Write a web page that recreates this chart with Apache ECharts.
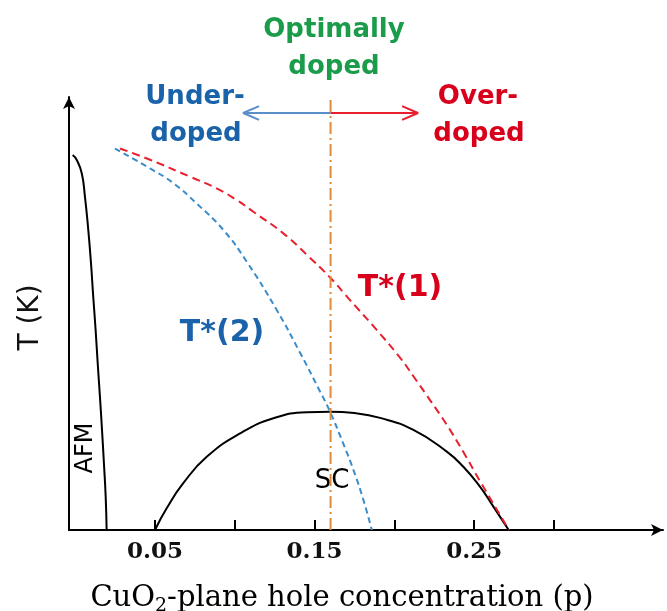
<!DOCTYPE html>
<html>
<head>
<meta charset="utf-8">
<script src="https://cdn.jsdelivr.net/npm/echarts@6/dist/echarts.min.js"></script>
<style>
html,body{margin:0;padding:0;background:#fff;}
#chart{width:667px;height:611px;}
</style>
</head>
<body>
<div id="chart"></div>
<script>
// ---- data (T in arbitrary units, axis top = 100) ----
const tickValues = [0.05, 0.10, 0.15, 0.20, 0.25, 0.30];
const labelValues = [0.05, 0.15, 0.25];

const afmP = [-0.0016, 0.0009, 0.0041, 0.0061, 0.0082, 0.0099, 0.0113, 0.0128, 0.0141, 0.0155, 0.0168, 0.0180, 0.0191, 0.0197];
const afmT = [86.6, 85.5, 82.4, 77.0, 69.3, 61.6, 53.9, 46.2, 38.5, 30.8, 23.1, 15.4, 7.7, 0];

const scP = [0.050, 0.0573, 0.0677, 0.0824, 0.1033, 0.1242, 0.1451, 0.1597, 0.1750, 0.1910, 0.2119, 0.2328, 0.2432, 0.2536, 0.2620, 0.2716];
const scT = [0, 5.0, 10.8, 16.9, 22.3, 25.8, 27.2, 27.3, 27.0, 25.9, 23.1, 18.1, 14.6, 10.0, 5.4, 0];

const t1P = [0.0281, 0.0469, 0.0719, 0.0886, 0.1012, 0.1116, 0.1304, 0.1450, 0.1597, 0.1722, 0.1889, 0.2035, 0.2119, 0.2223, 0.2328, 0.2432, 0.2536, 0.2718];
const t1T = [88.1, 85.5, 81.6, 78.9, 76.2, 73.5, 68.5, 63.6, 58.3, 53.1, 46.2, 39.8, 35.5, 30.0, 24.3, 18.0, 11.3, 0];

const t2P = [0.0249, 0.0469, 0.0615, 0.0761, 0.0928, 0.1074, 0.1263, 0.1408, 0.1534, 0.1597, 0.1679, 0.1743, 0.1806, 0.1858];
const t2T = [88.1, 83.5, 80.1, 75.4, 69.3, 62.0, 50.8, 41.0, 32.0, 27.3, 20.0, 13.9, 6.9, 0];

const optimalP = 0.16;
const arrowT = 96.3;
const underEndP = 0.1052;
const overEndP = 0.2148;

// ---- build ----
const zip = (xs, ys) => xs.map((x, i) => [x, ys[i]]);
const headDX = 0.010, headDY = 1.6;
function chevron(endP, dir) {
  return [[endP - dir * headDX, arrowT + headDY], [endP, arrowT], [endP - dir * headDX, arrowT - headDY]];
}

const chart = echarts.init(document.getElementById('chart'), null, {renderer: 'canvas'});
const blueText = '#1a63aa', redText = '#d9001b', greenText = '#1b9c4b';
const sans = 'DejaVu Sans';
const lblFont = 'bold 26px "DejaVu Sans"';

const option = {
  animation: false,
  backgroundColor: '#ffffff',
  grid: {left: 69, top: 97, width: 594, bottom: 81, containLabel: false, outerBoundsMode: 'none'},
  xAxis: {
    type: 'value', min: -0.00388, max: 0.36828,
    axisLine: {show: true, onZero: false, symbol: ['none', 'arrow'], symbolSize: [9, 12], lineStyle: {color: '#000', width: 2}},
    axisTick: {show: true, inside: true, length: 10, customValues: tickValues, lineStyle: {color: '#000', width: 2}},
    axisLabel: {show: true, customValues: labelValues, formatter: v => v.toFixed(2), fontFamily: 'DejaVu Serif', fontWeight: 'bold', fontSize: 23, color: '#111', margin: 11},
    splitLine: {show: false},
    name: 'CuO{sub|2}-plane hole concentration (p)',
    nameLocation: 'middle', nameGap: 51,
    nameTextStyle: {fontFamily: 'DejaVu Serif', fontSize: 29, color: '#000', padding: [0, 48, 0, 0],
      rich: {sub: {fontFamily: 'DejaVu Serif', fontSize: 19, color: '#000', padding: [16, 0, 0, 0]}}}
  },
  yAxis: {
    type: 'value', min: 0, max: 100,
    axisLine: {show: true, onZero: false, symbol: ['none', 'arrow'], symbolSize: [9, 12], lineStyle: {color: '#000', width: 2}},
    axisTick: {show: false}, axisLabel: {show: false}, splitLine: {show: false},
    name: 'T (K)', nameLocation: 'middle', nameRotate: 90, nameGap: 24,
    nameTextStyle: {fontFamily: sans, fontSize: 28, color: '#111', padding: [0, 8, 0, 0]}
  },
  series: [
    {type: 'line', name: 'AFM', data: zip(afmP, afmT), smooth: 0.5, symbol: 'none', lineStyle: {color: '#000', width: 2}},
    {type: 'line', name: 'SC', data: zip(scP, scT), smooth: 0.5, symbol: 'none', lineStyle: {color: '#000', width: 2}},
    {type: 'line', name: 'T*(1)', data: zip(t1P, t1T), smooth: 0.5, symbol: 'none', lineStyle: {color: '#e8202e', width: 2, type: [8, 5]}},
    {type: 'line', name: 'T*(2)', data: zip(t2P, t2T), smooth: 0.5, symbol: 'none', lineStyle: {color: '#3b8ccb', width: 2, type: [6, 4]}},
    {type: 'line', name: 'optimal', data: [[optimalP, 0], [optimalP, 100]], symbol: 'none', lineStyle: {color: '#e08a3c', width: 2, type: [12, 4, 2, 4]}},
    {type: 'line', name: 'under', data: [[optimalP, arrowT], [underEndP, arrowT]], symbol: 'none', lineStyle: {color: '#5b8fc9', width: 2}},
    {type: 'line', name: 'underHead', data: chevron(underEndP, -1), symbol: 'none', lineStyle: {color: '#5b8fc9', width: 2}},
    {type: 'line', name: 'over', data: [[optimalP, arrowT], [overEndP, arrowT]], symbol: 'none', lineStyle: {color: '#e8202e', width: 2}},
    {type: 'line', name: 'overHead', data: chevron(overEndP, 1), symbol: 'none', lineStyle: {color: '#e8202e', width: 2}}
  ],
  graphic: [
    {type: 'text', x: 334, y: 30, style: {text: 'Optimally', fill: greenText, font: lblFont, align: 'center', verticalAlign: 'middle'}},
    {type: 'text', x: 334, y: 67, style: {text: 'doped', fill: greenText, font: lblFont, align: 'center', verticalAlign: 'middle'}},
    {type: 'text', x: 195, y: 97, style: {text: 'Under-', fill: blueText, font: lblFont, align: 'center', verticalAlign: 'middle'}},
    {type: 'text', x: 196, y: 134, style: {text: 'doped', fill: blueText, font: lblFont, align: 'center', verticalAlign: 'middle'}},
    {type: 'text', x: 478, y: 97, style: {text: 'Over-', fill: redText, font: lblFont, align: 'center', verticalAlign: 'middle'}},
    {type: 'text', x: 479, y: 134, style: {text: 'doped', fill: redText, font: lblFont, align: 'center', verticalAlign: 'middle'}},
    {type: 'text', x: 400, y: 288, style: {text: 'T*(1)', fill: redText, font: 'bold 30px "DejaVu Sans"', align: 'center', verticalAlign: 'middle'}},
    {type: 'text', x: 222, y: 333, style: {text: 'T*(2)', fill: blueText, font: 'bold 30px "DejaVu Sans"', align: 'center', verticalAlign: 'middle'}},
    {type: 'text', x: 332, y: 481, style: {text: 'SC', fill: '#000', font: '26px "DejaVu Sans"', align: 'center', verticalAlign: 'middle'}},
    {type: 'text', x: 86, y: 448, rotation: Math.PI / 2, style: {text: 'AFM', fill: '#000', font: '24px "DejaVu Sans"', align: 'center', verticalAlign: 'middle'}}
  ]
};
chart.setOption(option);
</script>
</body>
</html>
